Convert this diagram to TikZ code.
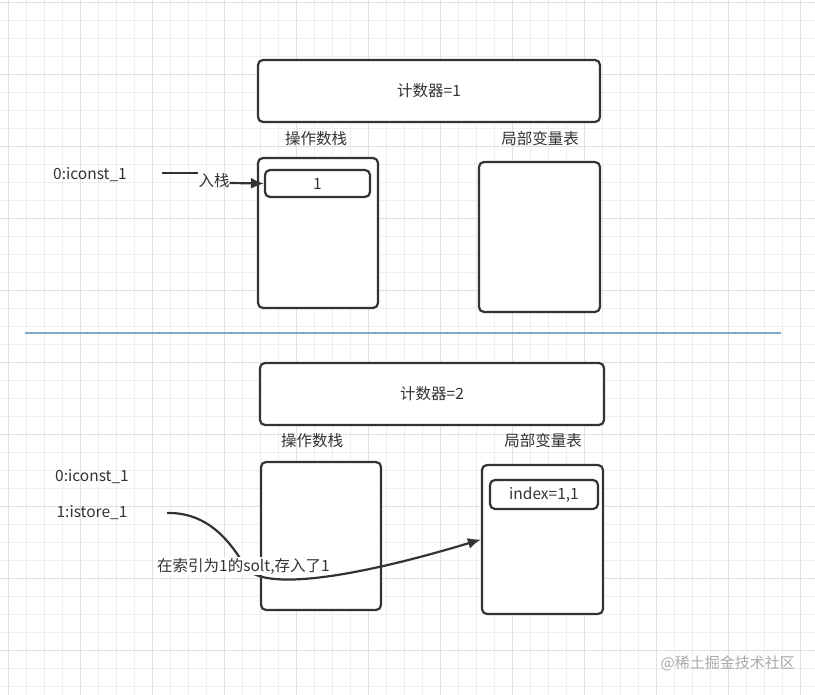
\documentclass[tikz,border=0pt]{standalone}
\usepackage{fontspec}
\setmainfont{Noto Sans CJK SC}
\usepackage{tikz}
\usetikzlibrary{
	arrows.meta,
	calc,
	positioning
}
\definecolor{InkGray}{RGB}{51,51,51}
\definecolor{GridGray}{RGB}{238,238,238}
\definecolor{GridDark}{RGB}{224,224,224}
\definecolor{SplitBlue}{RGB}{126,168,204}
\definecolor{MarkGray}{RGB}{170,170,170}

\begin{document}
\begin{tikzpicture}[x=1pt, y=-1pt,
		box/.style={draw=InkGray, line width=2.2pt, rounded corners=5pt, inner sep=0pt, text=InkGray},
		lbl/.style={text=InkGray, inner sep=0pt, font=\fontsize{15.5}{18}\selectfont},
		link/.style={draw=InkGray, line width=2.2pt},
		tip/.style={-{Latex[length=13pt,width=11pt]}}]
			\useasboundingbox (0,0) rectangle (815,695);
			\fill[white] (0,0) rectangle (815,695);
			% background grid
			\foreach \x in {8,26,...,812} \draw[GridGray, line width=0.8pt] (\x,0) -- (\x,695);
			\foreach \y in {2,20,...,692} \draw[GridGray, line width=0.8pt] (0,\y) -- (815,\y);
			\foreach \x in {8,80,...,812} \draw[GridDark, line width=0.8pt] (\x,0) -- (\x,695);
			\foreach \y in {2,74,...,692} \draw[GridDark, line width=0.8pt] (0,\y) -- (815,\y);
			% upper part
			\node[box, minimum width=342pt, minimum height=62pt, fill=white, lbl] (cnt1) at (429,91) {计数器=1};
			\node[lbl] (stkname1) at (316,139) {操作数栈};
			\node[lbl] (lvname1) at (540,139) {局部变量表};
			\node[box, minimum width=120pt, minimum height=150pt, fill=white] (stk1) at (318,233) {};
			\node[box, minimum width=121pt, minimum height=150pt, fill=white] (lv1) at (539.5,237) {};
			\node[box, minimum width=105pt, minimum height=27pt, lbl] (top1) at (317.5,183.5) {1};
			\node[lbl] (op1) at (90,175) {0:iconst\_1};
			\node[lbl] (push) at (214,181) {入栈};
			\coordinate (push0) at (162,173);
			\draw[link] (push0) -- (push.west |- push0) ++(4,0);
			\draw[link, tip] (push.east) ++(0,2) -- (top1.west);
			% divider
			\draw[SplitBlue, line width=1.6pt] (25,333) -- (781,333);
			% lower part
			\node[box, minimum width=344pt, minimum height=62pt, fill=white, lbl] (cnt2) at (432,394) {计数器=2};
			\node[lbl] (stkname2) at (312,441) {操作数栈};
			\node[lbl] (lvname2) at (543,441) {局部变量表};
			\node[box, minimum width=120pt, minimum height=148pt, fill=white] (stk2) at (321,536) {};
			\node[box, minimum width=121pt, minimum height=149pt, fill=white] (lv2) at (542.5,539.5) {};
			\node[box, minimum width=108pt, minimum height=29pt, lbl] (slot1) at (544,494.5) {index=1,1};
			\node[lbl] (op2a) at (92,477) {0:iconst\_1};
			\node[lbl] (op2b) at (92,513) {1:istore\_1};
			\coordinate (store0) at (167,513);
			\coordinate (storemid) at (245,566);
			\draw[link, tip] (store0) .. controls (210,512) and (232,545) .. (storemid)
				.. controls (258,590) and (340,582) .. (lv2.west);
			\node[lbl, fill=white, inner sep=1pt] (store) at (243.5,566) {在索引为1的solt,存入了1};
			% watermark
			\node[text=MarkGray, inner sep=0pt, anchor=east, font=\fontsize{15}{18}\selectfont] (mark) at (795,663) {@稀土掘金技术社区};
		\end{tikzpicture}
\end{document}
